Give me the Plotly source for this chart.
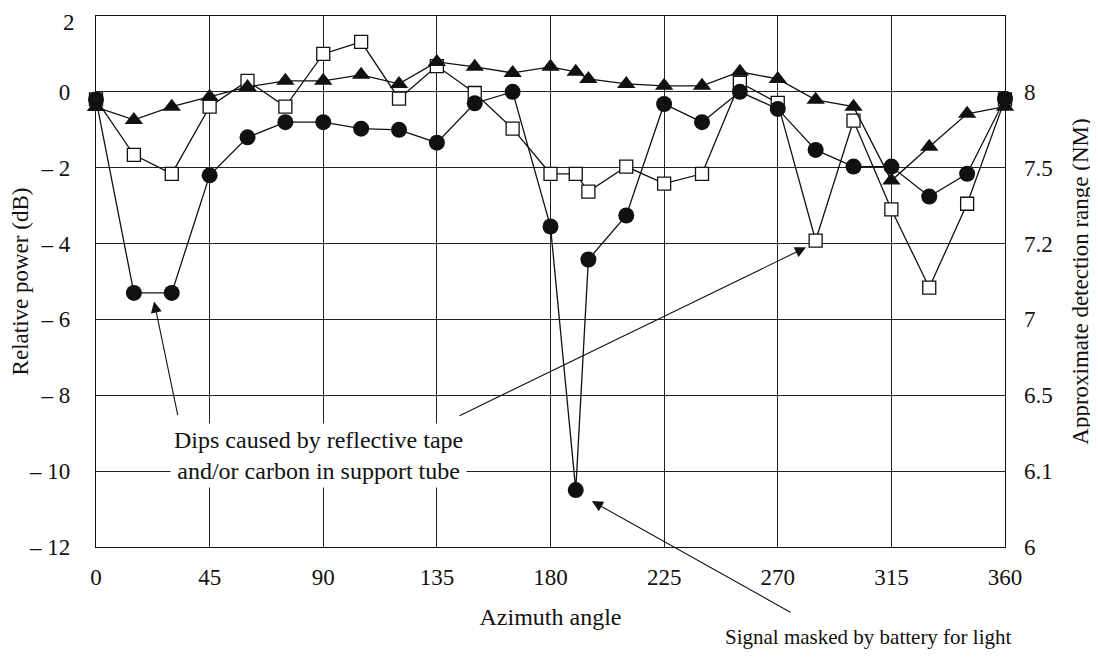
import plotly.graph_objects as go

# ---- data ----
azimuth = [0, 15, 30, 45, 60, 75, 90, 105, 120, 135, 150, 165, 180, 190, 195,
           210, 225, 240, 255, 270, 285, 300, 315, 330, 345, 360]

series_circle = [-0.2, -5.3, -5.3, -2.2, -1.2, -0.8, -0.8, -0.97, -1.0, -1.34, -0.3, 0.0,
                 -3.55, -10.5, -4.42, -3.26, -0.32, -0.8, 0.0, -0.45, -1.53, -1.97,
                 -1.97, -2.76, -2.16, -0.18]

series_square = [-0.2, -1.66, -2.16, -0.39, 0.29, -0.39, 1.0, 1.32, -0.18, 0.68, -0.03, -0.97,
                 -2.16, -2.16, -2.63, -1.97, -2.42, -2.16, 0.24, -0.29, -3.92, -0.76,
                 -3.1, -5.16, -2.95, -0.2]

series_triangle = [-0.4, -0.74, -0.39, -0.13, 0.13, 0.29, 0.29, 0.45, 0.21, 0.79, 0.66, 0.5,
                   0.66, 0.53, 0.34, 0.21, 0.16, 0.16, 0.53, 0.34, -0.21, -0.39,
                   -2.34, -1.45, -0.58, -0.39]

x_ticks = [0, 45, 90, 135, 180, 225, 270, 315, 360]
y_ticks = [2, 0, -2, -4, -6, -8, -10, -12]
y_ticklabels = ["2", "0", "\u2013 2", "\u2013 4", "\u2013 6", "\u2013 8", "\u2013 10", "\u2013 12"]
range_ticklabels = ["", "8", "7.5", "7.2", "7", "6.5", "6.1", "6"]

FONT = "Liberation Serif"
FS = 23
INK = "#111111"
LINE = dict(color=INK, width=1.3)

# the top tick label is drawn as an annotation so it is not cut at the page edge
axis_ticktext = [""] + y_ticklabels[1:]

fig = go.Figure()

fig.add_trace(go.Scatter(
    x=azimuth, y=series_square, mode="lines+markers", line=LINE, cliponaxis=False,
    marker=dict(symbol="square", size=13, color="white", line=dict(color=INK, width=1.3)),
    showlegend=False, hoverinfo="x+y"))

fig.add_trace(go.Scatter(
    x=azimuth, y=series_triangle, mode="lines+markers", line=LINE, cliponaxis=False,
    marker=dict(symbol="triangle-up", size=16, color=INK, line=dict(width=0)),
    showlegend=False, hoverinfo="x+y"))

fig.add_trace(go.Scatter(
    x=azimuth, y=series_circle, mode="lines+markers", line=LINE, cliponaxis=False,
    marker=dict(symbol="circle", size=16, color=INK, line=dict(width=0)),
    showlegend=False, hoverinfo="x+y"))

# invisible trace so the right axis is drawn
fig.add_trace(go.Scatter(
    x=azimuth, y=series_circle, yaxis="y2", mode="markers",
    marker=dict(opacity=0), showlegend=False, hoverinfo="skip"))

ARROW = dict(text="", showarrow=True, arrowhead=2, arrowsize=2.0, arrowwidth=1.1,
             arrowcolor=INK, axref="pixel", ayref="pixel", xref="x", yref="y")

annotations = [
    dict(x=0, y=1, xref="paper", yref="paper", xanchor="right", yanchor="top",
         xshift=-20, yshift=7, showarrow=False, text=y_ticklabels[0],
         font=dict(family=FONT, size=FS, color=INK), borderpad=0),
    dict(x=88, y=-9.58, xref="x", yref="y", showarrow=False,
         text="Dips caused by reflective tape<br>and/or carbon in support tube",
         font=dict(family=FONT, size=24, color=INK), align="center",
         bgcolor="white", borderpad=3),
    dict(x=23, y=-5.53, ax=24, ay=115, **ARROW),
    dict(x=281.2, y=-4.1, ax=-348, ay=169, **ARROW),
    dict(x=196.4, y=-10.79, ax=200, ay=112, **ARROW),
    dict(x=306, y=-0.196, xref="x", yref="paper", showarrow=False,
         text="Signal masked by battery for light",
         font=dict(family=FONT, size=21, color=INK)),
]

fig.update_layout(
    width=1090, height=651,
    margin=dict(l=88, r=93, t=8, b=112),
    paper_bgcolor="white", plot_bgcolor="white",
    font=dict(family=FONT, size=FS, color=INK),
    xaxis=dict(range=[0, 360], tickvals=x_ticks, ticks="", showgrid=True,
               gridcolor="#222222", gridwidth=1.4, showline=True, linecolor=INK,
               linewidth=1.4, mirror=True, zeroline=False, ticklabelstandoff=9,
               automargin=False, ticklabeloverflow="allow",
               title=dict(text="Azimuth angle", standoff=19,
                          font=dict(family=FONT, size=24))),
    yaxis=dict(range=[-12, 2], tickvals=y_ticks, ticktext=axis_ticktext, ticks="",
               showgrid=True, gridcolor="#222222", gridwidth=1.4, showline=True,
               linecolor=INK, linewidth=1.4, mirror=True, zeroline=False,
               ticklabelstandoff=20, automargin=False, ticklabeloverflow="allow",
               title=dict(text="Relative power (dB)", standoff=10,
                          font=dict(family=FONT, size=FS))),
    yaxis2=dict(range=[-12, 2], overlaying="y", side="right", tickvals=y_ticks,
                ticktext=range_ticklabels, ticks="", showgrid=False, zeroline=False,
                showline=False, ticklabelstandoff=18, automargin=False,
                ticklabeloverflow="allow",
                title=dict(text="Approximate detection range (NM)", standoff=20,
                           font=dict(family=FONT, size=FS))),
    annotations=annotations,
)

fig.write_html("out.html")
